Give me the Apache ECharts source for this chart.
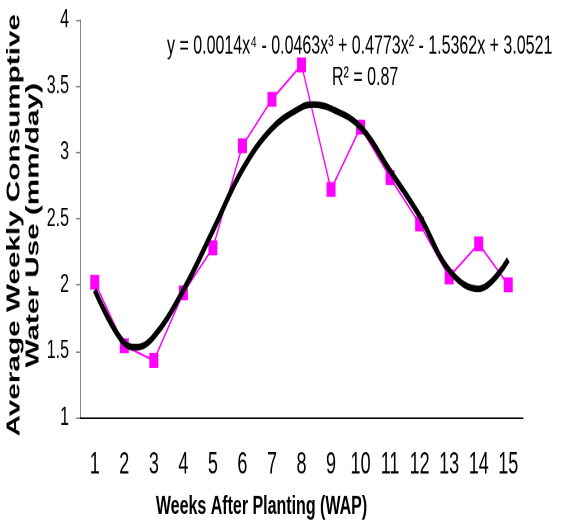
<!DOCTYPE html>
<html>
<head>
<meta charset="utf-8">
<script src="https://cdn.jsdelivr.net/npm/echarts@6/dist/echarts.min.js"></script>
<style>
  html, body { margin: 0; padding: 0; background: #fff; }
  body { width: 562px; height: 523px; overflow: hidden; }
  /* the reference picture is squeezed sideways, so draw short and stretch tall */
  #chart { width: 562px; height: 317px; transform: scaleY(1.6498); transform-origin: 0 0; }
</style>
</head>
<body>
<div id="chart"></div>
<script>
// weeks after planting
var weeks = ['1', '2', '3', '4', '5', '6', '7', '8', '9', '10', '11', '12', '13', '14', '15'];
// measured average weekly consumptive water use (mm/day)
var cwu = [2.02, 1.54, 1.43, 1.94, 2.28, 3.05, 3.40, 3.66, 2.72, 3.19, 2.81, 2.46, 2.06, 2.31, 2.00];
// polynomial trend line: week position and value
var trendWeek = [1, 2, 2.4, 3, 4, 5, 6, 7, 8, 8.4, 9, 10, 11, 12, 13, 14, 15];
var trendVal = [1.96, 1.56, 1.53, 1.61, 1.96, 2.41, 2.87, 3.18, 3.34, 3.36, 3.33, 3.19, 2.86, 2.52, 2.11, 1.97, 2.19];

var eqText = 'y = 0.0014x⁴ - 0.0463x³ + 0.4773x² - 1.5362x + 3.0521';
var r2Text = 'R² = 0.87';

var narrow = "'Liberation Sans Narrow', 'Arial Narrow', 'Liberation Sans', Arial, sans-serif";
var sans = "'Liberation Sans', Arial, sans-serif";

var trendData = trendWeek.map(function (w, i) { return [w, trendVal[i]]; });

var chart = echarts.init(document.getElementById('chart'), null, { devicePixelRatio: 2 });

var option = {
  animation: false,
  backgroundColor: '#fff',
  grid: { left: 80, right: 39, top: 12, bottom: 64, outerBoundsMode: 'none', containLabel: false },
  xAxis: [
    {
      type: 'category',
      data: weeks,
      boundaryGap: true,
      name: 'Weeks After Planting (WAP)',
      nameLocation: 'middle',
      nameGap: 46,
      nameMoveOverlap: false,
      nameTextStyle: { fontFamily: sans, fontWeight: 'bold', fontSize: 16, color: '#000', padding: [0, 80, 0, 0] },
      axisLine: { lineStyle: { color: '#000', width: 1 } },
      axisTick: { length: 6, lineStyle: { color: '#000' } },
      axisLabel: { margin: 20, fontFamily: narrow, fontSize: 18, color: '#000' },
      splitLine: { show: false }
    },
    {
      // hidden value axis lined up with the week bands, for the trend curve
      type: 'value',
      min: 0.5,
      max: 15.5,
      show: false,
      position: 'bottom'
    }
  ],
  yAxis: {
    type: 'value',
    min: 1,
    max: 4,
    interval: 0.5,
    name: 'Average Weekly Consumptive\nWater Use (mm/day)',
    nameLocation: 'middle',
    nameRotate: 90,
    nameGap: 37,
    nameMoveOverlap: false,
    nameTextStyle: { fontFamily: sans, fontWeight: 'bold', fontSize: 18, lineHeight: 19, color: '#000', padding: [0, 8, 0, 0] },
    axisLine: { show: true, lineStyle: { color: '#888', width: 1 } },
    axisTick: { show: true, length: 4, lineStyle: { color: '#888' } },
    axisLabel: { margin: 11, fontFamily: sans, fontSize: 16, color: '#000' },
    splitLine: { show: false }
  },
  graphic: [
    {
      type: 'text', left: 167, top: 20,
      style: { text: eqText, fontFamily: narrow, fontSize: 16, fill: '#000' }
    },
    {
      type: 'text', left: 332, top: 39,
      style: { text: r2Text, fontFamily: narrow, fontSize: 16, fill: '#000' }
    }
  ],
  series: [
    {
      name: 'CWU',
      type: 'line',
      data: cwu,
      symbol: 'rect',
      symbolSize: 9,
      lineStyle: { color: '#ff00ff', width: 1.3 },
      itemStyle: { color: '#ff00ff' },
      z: 2
    },
    {
      name: 'Poly. trend',
      type: 'line',
      xAxisIndex: 1,
      data: trendData,
      smooth: 0.4,
      showSymbol: false,
      lineStyle: { color: '#000', width: 4 },
      z: 3
    }
  ]
};

chart.setOption(option);
</script>
</body>
</html>
